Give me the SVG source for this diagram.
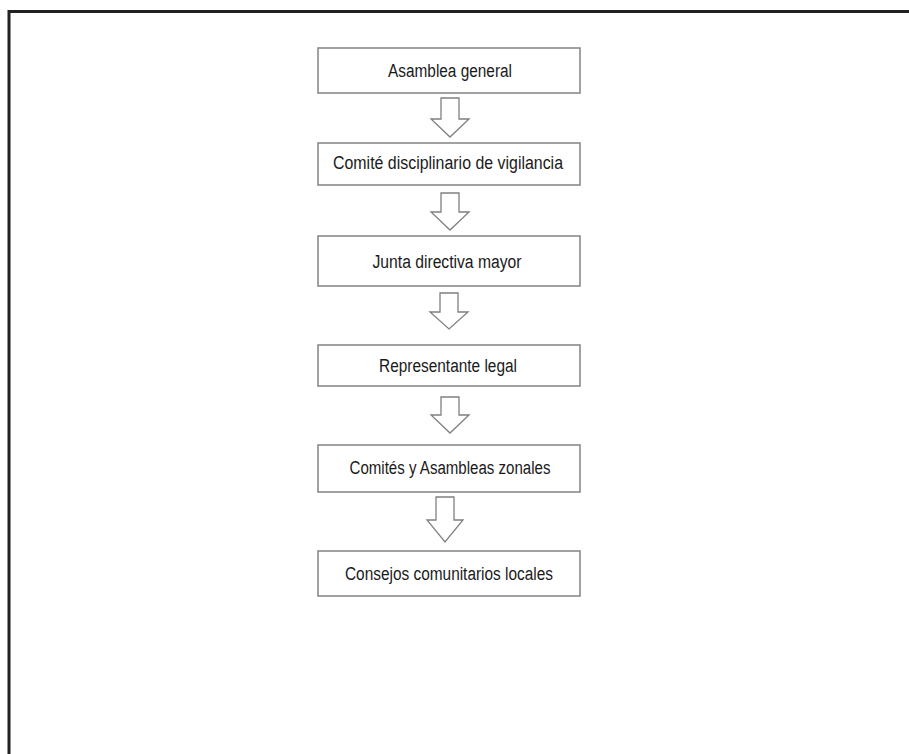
<svg xmlns="http://www.w3.org/2000/svg" width="909" height="754" viewBox="0 0 909 754">
<style>
.box{fill:#fff;stroke:#8a8a8a;stroke-width:1.6}
.arr{fill:#fff;stroke:#808080;stroke-width:1.3;stroke-linejoin:miter}
.t{font-family:"Liberation Sans Narrow","Liberation Sans",Arial,sans-serif;font-size:18px;fill:#1a1a1a;text-anchor:middle}
.frame{fill:none;stroke:#222;stroke-width:3}
</style>
<rect width="909" height="754" fill="#fff"/>
<path class="frame" d="M9,754 V11.5 H909"/>
<g id="connectors">
<path class="arr" d="M441,98 H459 V119 H469 L450,137 L431,119 H441 Z"/>
<path class="arr" d="M441,193 H459 V212 H469 L450,230 L431,212 H441 Z"/>
<path class="arr" d="M440,293 H458 V312 H468 L449,329 L430,312 H440 Z"/>
<path class="arr" d="M441,397 H459 V415 H469 L450,433 L431,415 H441 Z"/>
<path class="arr" d="M436,497 H454 V520 H463 L445,542 L427,520 H436 Z"/>
</g>
<g id="n1"><rect class="box" x="318" y="48" width="262" height="45"/><text class="t" x="450" y="77" textLength="124" lengthAdjust="spacingAndGlyphs">Asamblea general</text></g>
<g id="n2"><rect class="box" x="318" y="143" width="262" height="42"/><text class="t" x="448" y="169" textLength="230" lengthAdjust="spacingAndGlyphs">Comité disciplinario de vigilancia</text></g>
<g id="n3"><rect class="box" x="318" y="236" width="262" height="50"/><text class="t" x="447" y="268" textLength="149" lengthAdjust="spacingAndGlyphs">Junta directiva mayor</text></g>
<g id="n4"><rect class="box" x="318" y="345" width="262" height="41"/><text class="t" x="448" y="372" textLength="138" lengthAdjust="spacingAndGlyphs">Representante legal</text></g>
<g id="n5"><rect class="box" x="318" y="445" width="262" height="47"/><text class="t" x="450" y="474" textLength="201" lengthAdjust="spacingAndGlyphs">Comités y Asambleas zonales</text></g>
<g id="n6"><rect class="box" x="318" y="551" width="262" height="45"/><text class="t" x="449" y="580" textLength="208" lengthAdjust="spacingAndGlyphs">Consejos comunitarios locales</text></g>
</svg>
